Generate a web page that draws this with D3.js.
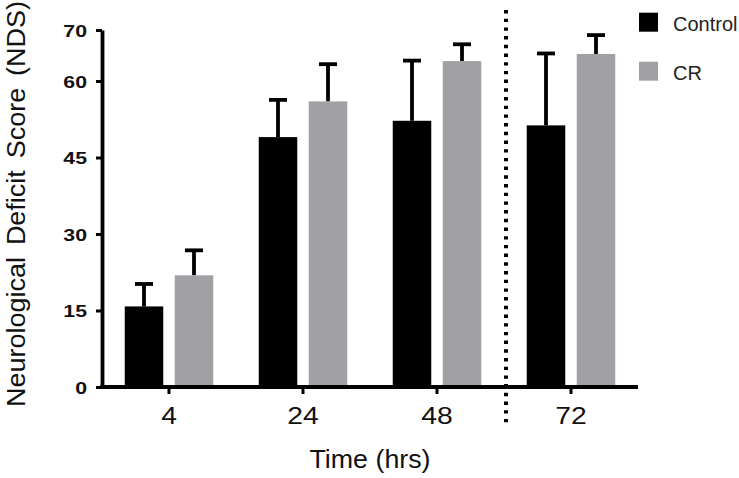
<!DOCTYPE html>
<html><head><meta charset="utf-8">
<script src="https://cdn.jsdelivr.net/npm/d3@7"></script>
<style>
html,body{margin:0;padding:0;background:#fff;}
svg{display:block;font-family:Arial,"Liberation Sans",Helvetica,sans-serif;}
</style></head>
<body>
<svg id="chart" width="739" height="478"></svg>
<script>
const categories = ["4", "24", "48", "72"];
const seriesNames = ["Control", "CR"];
const controlMean = [15.8, 49.0, 52.2, 51.3];
const controlErr  = [20.2, 56.3, 64.0, 65.4];
const crMean      = [21.9, 56.0, 63.9, 65.3];
const crErr       = [26.8, 63.3, 67.2, 69.0];
const yTicks = [0, 15, 30, 45, 60, 70];
const colors = ["#000000", "#a1a1a5"];

const svg = d3.select("#chart");
const x = d3.scaleBand().domain(categories).range([102, 638]).padding(0);
const sub = d3.scaleBand().domain(seriesNames).range([-50, 50]).paddingInner(0.23).paddingOuter(0.115);
const y = d3.scaleLinear().domain([0, 70]).range([387, 30]);

const data = [];
categories.forEach((c, i) => {
  data.push({cat: c, s: "Control", v: controlMean[i], e: controlErr[i]});
  data.push({cat: c, s: "CR", v: crMean[i], e: crErr[i]});
});
const color = d3.scaleOrdinal().domain(seriesNames).range(colors);
const cx = d => x(d.cat) + x.bandwidth() / 2 + sub(d.s) + sub.bandwidth() / 2;

// error bars (behind bars)
const eb = svg.append("g").attr("stroke", "#000").attr("stroke-width", 3.8).attr("fill", "none");
eb.selectAll("line.stem").data(data).join("line")
  .attr("x1", cx).attr("x2", cx)
  .attr("y1", d => y(d.v)).attr("y2", d => y(d.e));
eb.selectAll("line.cap").data(data).join("line")
  .attr("x1", d => cx(d) - 9).attr("x2", d => cx(d) + 9)
  .attr("y1", d => y(d.e)).attr("y2", d => y(d.e));

// bars
svg.append("g").selectAll("rect").data(data).join("rect")
  .attr("x", d => cx(d) - sub.bandwidth() / 2)
  .attr("width", sub.bandwidth())
  .attr("y", d => y(d.v))
  .attr("height", d => y(0) - y(d.v))
  .attr("fill", d => color(d.s));

// y axis
const ya = svg.append("g").attr("transform", "translate(102,0)")
  .call(d3.axisLeft(y).tickValues(yTicks).tickSize(6).tickSizeOuter(0));
ya.select(".domain").attr("stroke", "#000").attr("stroke-width", 3.8);
ya.selectAll(".tick line").attr("stroke", "#000").attr("stroke-width", 3);
ya.selectAll(".tick text").attr("font-size", 17).attr("font-weight", "bold").attr("fill", "#111")
  .attr("font-family", "Arial, 'Liberation Sans', sans-serif")
  .attr("x", -12).attr("dy", "0.36em").attr("transform", "scale(1.25,1)");

// x axis
const xa = svg.append("g").attr("transform", "translate(0,387)")
  .call(d3.axisBottom(x).tickSize(7).tickSizeOuter(0).tickPadding(13));
xa.select(".domain").attr("stroke", "#000").attr("stroke-width", 3.8).attr("d", "M100.1,0H638");
xa.selectAll(".tick line").attr("stroke", "#000").attr("stroke-width", 3);
xa.selectAll(".tick text").attr("font-size", 24).attr("fill", "#111")
  .attr("font-family", "Arial, 'Liberation Sans', sans-serif")
  .attr("transform", "scale(1.18,1)");

// dotted separator
const sepX = (x("48") + x("72") + x.bandwidth()) / 2 + 2;
svg.append("line").attr("x1", sepX).attr("x2", sepX).attr("y1", 10).attr("y2", 425)
  .attr("stroke", "#000").attr("stroke-width", 4).attr("stroke-dasharray", "3.4 5.3");

// axis titles
svg.append("text").attr("x", 370).attr("y", 468).attr("text-anchor", "middle")
  .attr("font-size", 25).attr("fill", "#111")
  .attr("textLength", 121).attr("lengthAdjust", "spacingAndGlyphs").text("Time (hrs)");
svg.append("text").attr("transform", "translate(25,204) rotate(-90) scale(1.08,1)").attr("text-anchor", "middle")
  .attr("font-size", 25).attr("fill", "#111").style("word-spacing", "4px")
  .text("Neurological Deficit Score (NDS)");

// legend
const lg = svg.append("g").selectAll("g").data(seriesNames).join("g")
  .attr("transform", (d, i) => `translate(639,${12.7 + i * 49})`);
lg.append("rect").attr("width", 19).attr("height", 19).attr("fill", d => color(d));
lg.append("text").attr("x", 34).attr("y", 18.5).attr("font-size", 20).attr("fill", "#222").text(d => d);
</script>
</body></html>
